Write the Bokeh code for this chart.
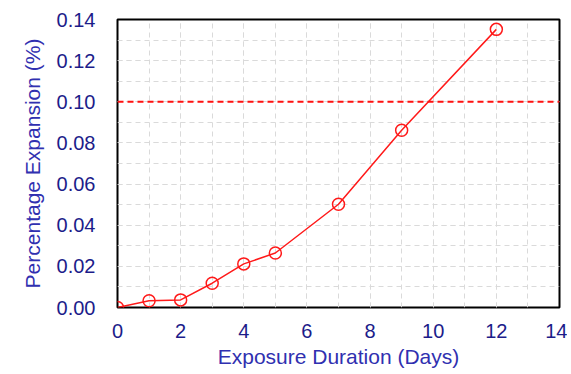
from bokeh.plotting import figure
from bokeh.embed import file_html
from bokeh.resources import INLINE
from bokeh.models import SingleIntervalTicker, NumeralTickFormatter, Span, Range1d

days = [0, 1, 2, 3, 4, 5, 7, 9, 12]
expansion = [0.0, 0.0033, 0.0037, 0.0118, 0.0212, 0.0265, 0.0502, 0.0862, 0.1352]
limit = 0.10

p = figure(width=567, height=370, output_backend="svg", toolbar_location=None,
           x_range=Range1d(0, 14), y_range=Range1d(0, 0.14),
           min_border_left=117, min_border_right=8, min_border_top=19, min_border_bottom=61)
p.background_fill_color = "white"
p.outline_line_color = "black"
p.outline_line_width = 2

p.xaxis.ticker = SingleIntervalTicker(interval=2, num_minor_ticks=2)
p.yaxis.ticker = SingleIntervalTicker(interval=0.02, num_minor_ticks=2)
p.yaxis.formatter = NumeralTickFormatter(format="0.00")

for ax in (p.xaxis, p.yaxis):
    ax.axis_line_color = None
    ax.major_tick_line_color = None
    ax.minor_tick_line_color = None
    ax.major_label_text_font = "Liberation Sans"
    ax.major_label_text_font_size = "20px"
    ax.major_label_text_color = "#1c1c8a"
    ax.axis_label_text_font = "Liberation Sans"
    ax.axis_label_text_font_size = "21px"
    ax.axis_label_text_font_style = "normal"
    ax.axis_label_text_color = "#3030b0"

p.xaxis.axis_label = "Exposure Duration (Days)"
p.yaxis.axis_label = "Percentage Expansion (%)"
p.xaxis.major_label_standoff = 10
p.yaxis.major_label_standoff = 16
p.xaxis.axis_label_standoff = 4
p.yaxis.axis_label_standoff = 10

for g in (p.xgrid, p.ygrid):
    g.grid_line_color = "#dadada"
    g.grid_line_dash = "5 4"
    g.grid_line_width = 1
    g.minor_grid_line_color = "#dadada"
    g.minor_grid_line_dash = "5 4"
    g.minor_grid_line_width = 1

p.add_layout(Span(location=limit, dimension="width", line_color="#ff1010",
                  line_dash="6 4", line_width=2))

p.line(days, expansion, line_color="#ff1a1a", line_width=1.5)
p.scatter(days, expansion, marker="circle", size=12, fill_color=None,
          line_color="#ff1a1a", line_width=1.5)

open("out.html", "w").write(file_html(p, INLINE))
